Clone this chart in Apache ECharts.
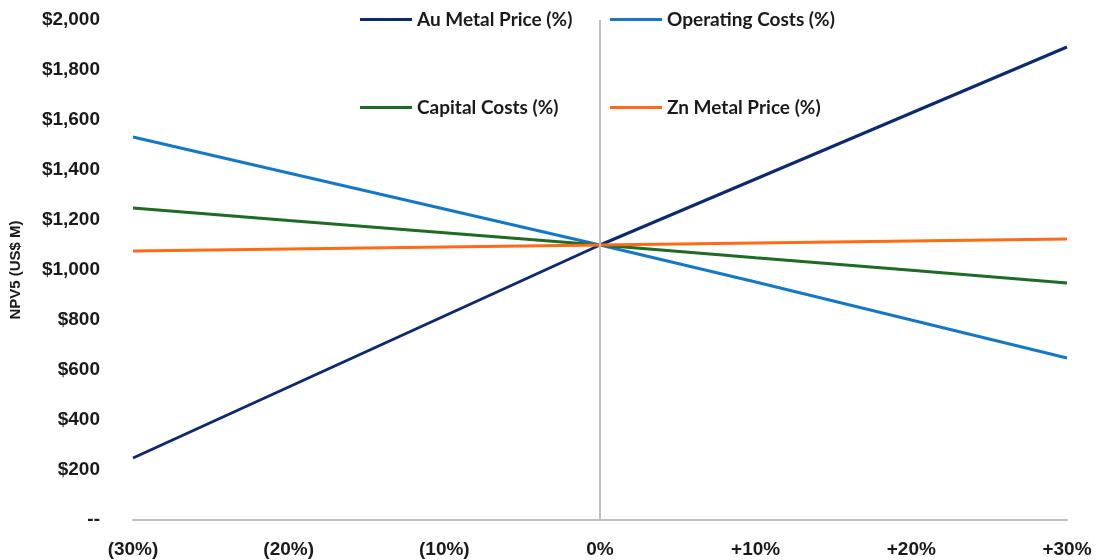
<!DOCTYPE html>
<html>
<head>
<meta charset="utf-8">
<script src="https://cdn.jsdelivr.net/npm/echarts@6/dist/echarts.min.js"></script>
<style>
  html, body { margin: 0; padding: 0; background: #fff; }
  #chart { width: 1097px; height: 560px; }
</style>
</head>
<body>
<div id="chart"></div>
<script>
  // sensitivity steps
  var categories = ["(30%)", "(20%)", "(10%)", "0%", "+10%", "+20%", "+30%"];
  // NPV5 (US$ M)
  var auPrice = [248, 532, 816, 1100, 1364, 1628, 1892];
  var opCosts = [1532, 1388, 1244, 1100, 952, 800, 648];
  var capCosts = [1248, 1198, 1149, 1100, 1049, 999, 948];
  var znPrice = [1076, 1084, 1092, 1100, 1108, 1116, 1124];

  var seriesNames = ["Au Metal Price (%)", "Operating Costs (%)", "Capital Costs (%)", "Zn Metal Price (%)"];
  var seriesColors = ["#0b2a6f", "#1478c8", "#1d6b24", "#ff6a14"];
  var seriesData = [auPrice, opCosts, capCosts, znPrice];

  var legendPos = [[355, 5], [605, 5], [355, 93], [605, 93]];

  var chart = echarts.init(document.getElementById("chart"));

  var series = seriesNames.map(function (name, i) {
    return {
      name: name,
      type: "line",
      data: seriesData[i],
      symbol: "none",
      z: 3,
      lineStyle: { color: seriesColors[i], width: 3 },
      itemStyle: { color: seriesColors[i] }
    };
  });
  // vertical line at 0%
  series.push({
    name: "zero",
    type: "line",
    data: [],
    z: 1,
    markLine: {
      silent: true,
      symbol: "none",
      label: { show: false },
      lineStyle: { color: "#bfbfbf", width: 2, type: "solid" },
      data: [{ xAxis: "0%" }]
    }
  });

  var legends = seriesNames.map(function (name, i) {
    return {
      data: [name],
      left: legendPos[i][0],
      top: legendPos[i][1],
      icon: "rect",
      itemWidth: 52,
      itemHeight: 3,
      itemGap: 0,
      textStyle: { fontFamily: "Lato", fontWeight: "bold", fontSize: 19, color: "#1a1a1a" }
    };
  });

  var option = {
    animation: false,
    legend: legends,
    grid: { left: 133, right: 30, top: 20, bottom: 40, outerBoundsMode: "none" },
    xAxis: {
      type: "category",
      data: categories,
      boundaryGap: false,
      axisLine: { lineStyle: { color: "#bfbfbf", width: 2 } },
      axisTick: { show: false },
      axisLabel: { color: "#1a1a1a", fontFamily: "Liberation Sans", fontWeight: "bold", fontSize: 19, margin: 20 },
      splitLine: { show: false }
    },
    yAxis: {
      type: "value",
      min: 0,
      max: 2000,
      interval: 200,
      name: "NPV5 (US$ M)",
      nameLocation: "middle",
      nameGap: 110,
      nameTextStyle: { color: "#1a1a1a", fontFamily: "Liberation Sans", fontWeight: "bold", fontSize: 15 },
      axisLine: { show: false },
      axisTick: { show: false },
      splitLine: { show: false },
      axisLabel: {
        color: "#1a1a1a",
        fontFamily: "Liberation Sans",
        fontWeight: "bold",
        fontSize: 19,
        margin: 33,
        formatter: function (v) {
          return v === 0 ? "--" : "$" + v.toLocaleString("en-US");
        }
      }
    },
    series: series
  };

  chart.setOption(option);
</script>
</body>
</html>
